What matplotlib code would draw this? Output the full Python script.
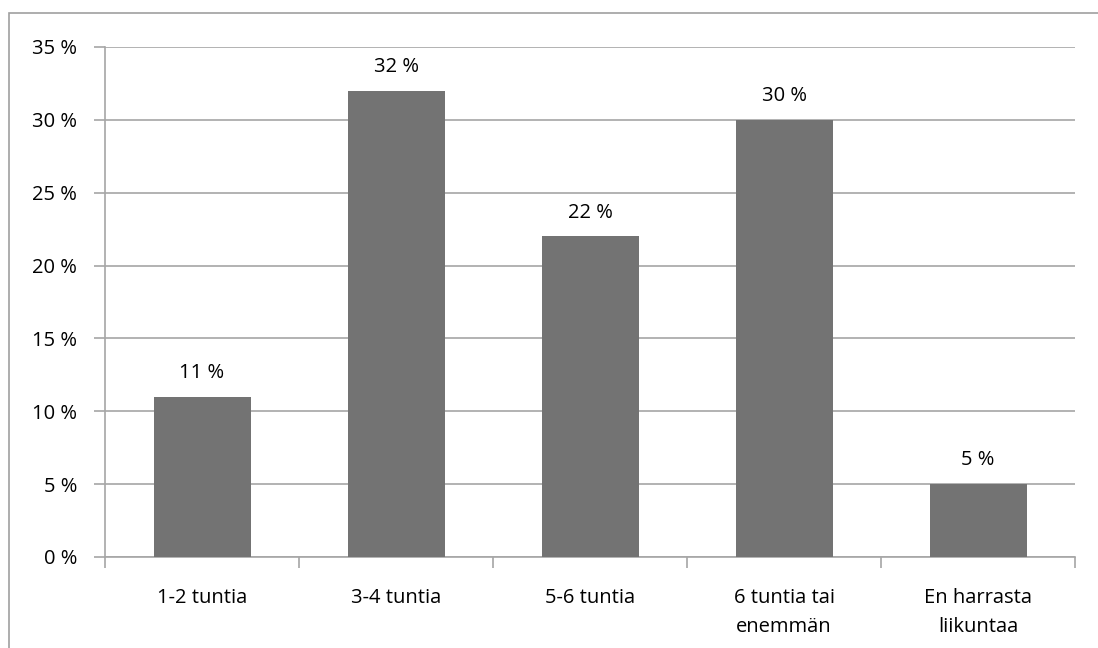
import matplotlib
matplotlib.use("Agg")
import matplotlib.pyplot as plt
from matplotlib.patches import Rectangle
import numpy as np

categories = ["1-2 tuntia", "3-4 tuntia", "5-6 tuntia", "6 tuntia tai\nenemmän", "En harrasta\nliikuntaa"]
values = [11, 32, 22, 30, 5]
yticks = [0, 5, 10, 15, 20, 25, 30, 35]
ytick_labels = [f"{v} %" for v in yticks]

plt.rcParams['font.family'] = ['Open Sans', 'DejaVu Sans']
W, H = 1098, 648
fig = plt.figure(figsize=(W/100, H/100), dpi=100)
grid_col = "#a6a6a6"
fs = 14.5

# outer border
fig.patches.append(Rectangle((9/W, -0.01), 1.02, (H-13)/H + 0.01, transform=fig.transFigure,
                             fill=False, edgecolor="#a0a0a0", linewidth=1.2))

ax = fig.add_axes([105/W, 1-557/H, (1075-105)/W, (557-47)/H])
x = np.arange(len(categories))
ax.bar(x, values, width=0.5, color="#737373", zorder=3)
ax.set_xlim(-0.5, len(categories)-0.5)
ax.set_ylim(0, 35)
ax.set_yticks(yticks)
ax.set_yticklabels(ytick_labels, fontsize=fs)
ax.yaxis.grid(True, color=grid_col, linewidth=1.2, zorder=0)
ax.tick_params(axis='y', length=8, width=1.2, color=grid_col, pad=12)
ax.set_xticks(np.arange(len(categories)+1)-0.5, minor=False)
ax.set_xticklabels([])
ax.set_xticks(x, minor=True)
ax.set_xticklabels(categories, minor=True, fontsize=fs, linespacing=1.65)
ax.tick_params(axis='x', which='major', length=8, width=1.2, color=grid_col)
ax.tick_params(axis='x', which='minor', length=0, pad=22)
for s in ['top', 'right']:
    ax.spines[s].set_visible(False)
for s in ['left', 'bottom']:
    ax.spines[s].set_color(grid_col)
    ax.spines[s].set_linewidth(1.2)

for xi, v in zip(x, values):
    ax.annotate(f"{v} %", (xi, v), xytext=(0, 10), textcoords="offset points",
                ha="center", va="bottom", fontsize=fs)

fig.savefig("out.png", dpi=100)
